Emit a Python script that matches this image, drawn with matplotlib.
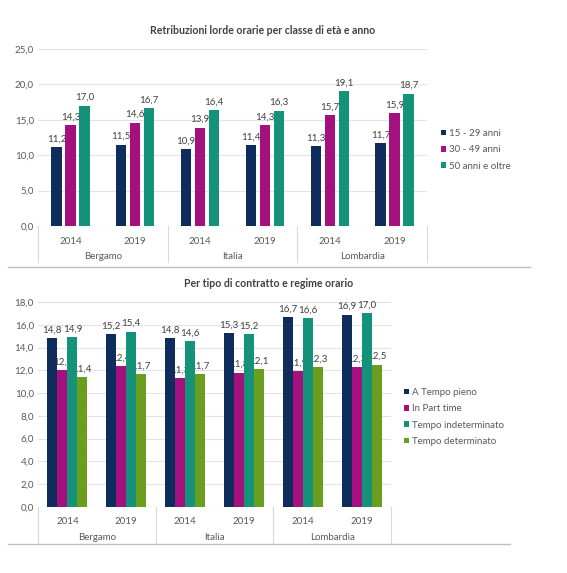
import matplotlib
matplotlib.use("Agg")
import matplotlib.pyplot as plt
from matplotlib.patches import Patch
from matplotlib.transforms import blended_transform_factory
from matplotlib.lines import Line2D

plt.rcParams['font.family'] = ['Lato', 'DejaVu Sans']

groups = ["Bergamo", "Italia", "Lombardia"]
years = ["2014", "2019", "2014", "2019", "2014", "2019"]

# Top chart: age classes
age_labels = ["15 - 29 anni", "30 - 49 anni", "50 anni e oltre"]
age_15_29 = [11.2, 11.5, 10.9, 11.4, 11.3, 11.7]
age_30_49 = [14.3, 14.6, 13.9, 14.3, 15.7, 15.9]
age_50 = [17.0, 16.7, 16.4, 16.3, 19.1, 18.7]

# Bottom chart: contract type / working hours
contr_labels = ["A Tempo pieno", "In Part time", "Tempo indeterminato", "Tempo determinato"]
full_time = [14.8, 15.2, 14.8, 15.3, 16.7, 16.9]
part_time = [12.0, 12.4, 11.3, 11.8, 11.9, 12.3]
permanent = [14.9, 15.4, 14.6, 15.2, 16.6, 17.0]
temporary = [11.4, 11.7, 11.7, 12.1, 12.3, 12.5]

navy = "#0E2D5C"
magenta = "#A4117F"
teal = "#14937A"
green = "#6A9E1F"
grid_c = "#E3E3E3"
txt_c = "#595959"
lab_c = "#404040"

W, H = 567, 573
fig = plt.figure(figsize=(W / 100, H / 100), dpi=100)


def fx(px):
    return px / W


def fy(py):
    return 1 - py / H


def draw_chart(ax, series, colors, names, width, step, ymax, ystep, title,
               title_xy, year_y, group_y, sep_y, legend_pos):
    n = len(series)
    xs = list(range(len(years)))
    offs = [(i - (n - 1) / 2) * step for i in range(n)]
    for s, c, o in zip(series, colors, offs):
        bars = ax.bar([x + o for x in xs], s, width=width, color=c, zorder=3)
        for b, v in zip(bars, s):
            ax.annotate(f"{v:.1f}".replace(".", ","),
                        (b.get_x() + b.get_width() / 2, v),
                        xytext=(0, 2.5), textcoords="offset points",
                        ha="center", va="bottom", fontsize=7,
                        color=lab_c, zorder=2)
    ax.set_xlim(-0.5, len(years) - 0.5)
    ax.set_ylim(0, ymax)
    ticks = [i * ystep for i in range(int(round(ymax / ystep)) + 1)]
    ax.set_yticks(ticks)
    ax.set_yticklabels([f"{t:.1f}".replace(".", ",") for t in ticks],
                       fontsize=7, color=txt_c)
    ax.tick_params(axis="y", length=0, pad=3)
    ax.set_xticks([])
    for sp in ax.spines.values():
        sp.set_visible(False)
    ax.grid(axis="y", color=grid_c, linewidth=0.8, zorder=0)
    ax.set_axisbelow(True)
    ax.axhline(0, color="#D9D9D9", linewidth=0.8, zorder=1)

    tr = blended_transform_factory(ax.transData, fig.transFigure)
    for x, y in zip(xs, years):
        ax.text(x, fy(year_y), y, transform=tr, ha="center", va="center",
                fontsize=7, color=txt_c)
    for gi, g in enumerate(groups):
        ax.text(gi * 2 + 0.5, fy(group_y), g, transform=tr, ha="center",
                va="center", fontsize=7, color=txt_c)
    y0 = ax.get_position().y0
    for sx in [-0.5, 1.5, 3.5, 5.5]:
        ax.add_line(Line2D([sx, sx], [y0, fy(sep_y)], transform=tr,
                           color="#D9D9D9", linewidth=0.8, clip_on=False))
    fig.text(fx(title_xy[0]), fy(title_xy[1]), title, ha="center",
             va="center", fontsize=7.6, fontweight="bold", color="#404040")
    handles = [Patch(facecolor=c, edgecolor="none") for c in colors]
    fig.legend(handles, names, loc="upper left",
               bbox_to_anchor=(fx(legend_pos[0]), fy(legend_pos[1])),
               frameon=False, fontsize=7, handlelength=0.5,
               handleheight=0.5, handletextpad=0.35, labelspacing=0.75,
               borderaxespad=0, borderpad=0, labelcolor=txt_c)


ax1 = fig.add_axes([fx(38), fy(226), fx(427 - 38), fy(49) - fy(226)])
draw_chart(ax1, [age_15_29, age_30_49, age_50], [navy, magenta, teal],
           age_labels, 0.16, 0.215, 25.0, 5.0,
           "Retribuzioni lorde orarie per classe di età e anno",
           (263, 30), 242, 257, 262, (441, 129))

ax2 = fig.add_axes([fx(38), fy(507), fx(391 - 38), fy(302) - fy(507)])
draw_chart(ax2, [full_time, part_time, permanent, temporary],
           [navy, magenta, teal, green], contr_labels, 0.17, 0.17, 18.0, 2.0,
           "Per tipo di contratto e regime orario",
           (269, 284), 521, 538, 543, (404, 388))

# separator lines between the two charts
fig.add_artist(Line2D([fx(8), fx(530)], [fy(267), fy(267)],
                      color="#BFBFBF", linewidth=1.0))
fig.add_artist(Line2D([fx(8), fx(510)], [fy(544), fy(544)],
                      color="#BFBFBF", linewidth=1.0))

fig.savefig("out.png", dpi=100)
